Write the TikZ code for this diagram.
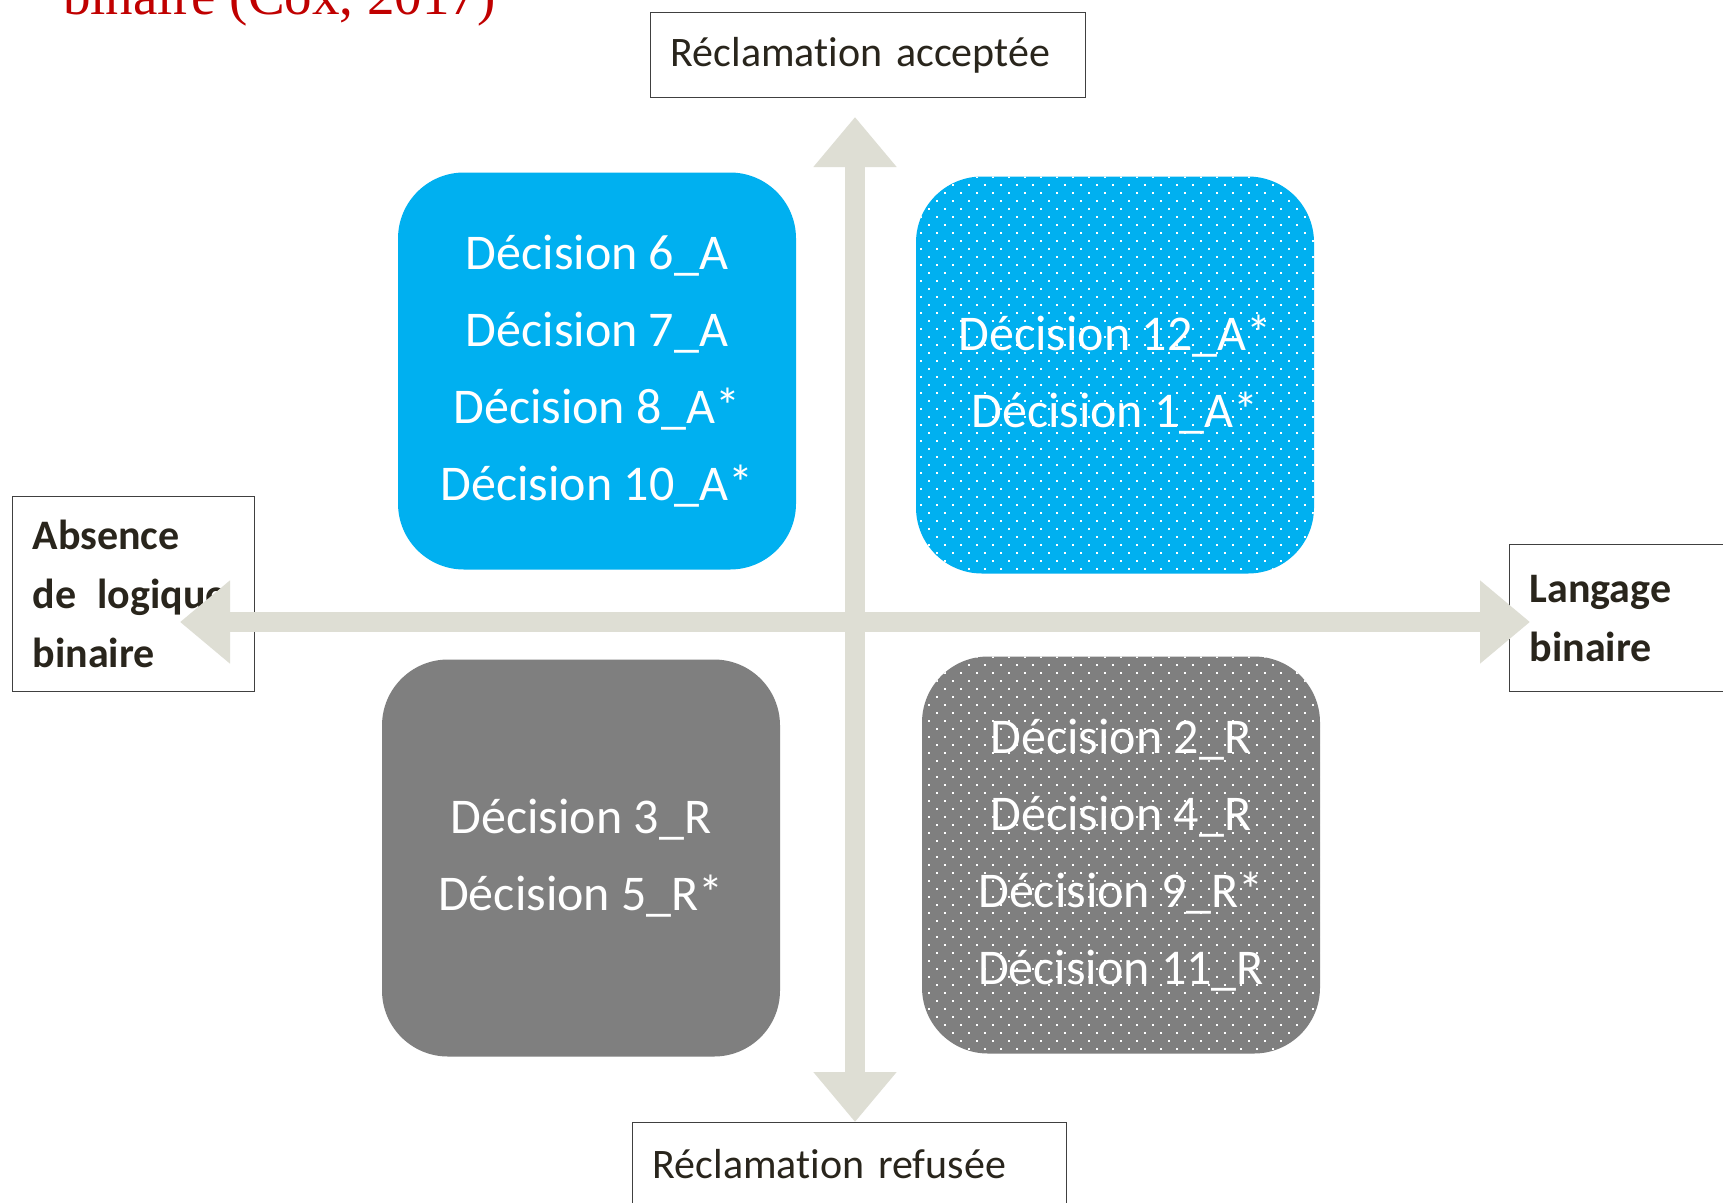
\documentclass[tikz,border=0pt]{standalone}
\usepackage{fontspec}
\setmainfont{Carlito}[Ligatures=NoCommon]
\newfontfamily\titlefont{Liberation Serif}
\usepackage{xcolor}
\usepackage{tikz}
\usetikzlibrary{arrows.meta, positioning, patterns.meta}

\definecolor{quadblue}{RGB}{0,176,240}
\definecolor{quadgray}{RGB}{127,127,127}
\definecolor{axisgray}{RGB}{222,222,212}
\definecolor{labelink}{RGB}{41,37,28}
\definecolor{titlered}{RGB}{192,0,0}

\pgfdeclareradialshading{pageglow}{\pgfpoint{0bp}{0bp}}{color(0bp)=(white); color(36bp)=(white); color(52bp)=(black!6); color(72bp)=(black!14)}

\tikzdeclarepattern{
  name=finedots,
  type=uncolored,
  bounding box={(0pt,0pt) and (10pt,10pt)},
  tile size={(16pt,16pt)},
  code={
    \fill (0pt,0pt) rectangle (2pt,2pt);
    \fill (8pt,8pt) rectangle (10pt,10pt);
  }
}

\begin{document}
\begin{tikzpicture}[x=1pt, y=-1pt,
    quad/.style={rounded corners=66pt, minimum width=398pt, minimum height=397pt, inner sep=0pt, text=white, align=center, font=\fontsize{50}{77}\selectfont},
    dotted quad/.style={quad, postaction={pattern=finedots, pattern color=white}},
    labelbox/.style={draw=black!75, line width=1.2pt, fill=white, text=labelink, align=left, inner xsep=20pt, inner ysep=0pt, anchor=north west, font=\fontsize{42}{59}\selectfont},
    axis/.style={draw=axisgray, line width=20pt, arrows={Triangle[length=50pt, width=80pt]-Triangle[length=50pt, width=80pt]}}]
  \useasboundingbox (0,0) rectangle (1723,1202);
  \shade[shading=pageglow] (0,0) rectangle (1723,1202);
  % cut-off title line
  \node[anchor=base west, inner sep=0pt, text=titlered, font=\titlefont\fontsize{55}{60}\selectfont] (title) at (63,14) {binaire (Cox, 2017)};
  % quadrants
  \node[quad, fill=quadblue] (quadNW) at (597,371) {Décision 6\_A\\Décision 7\_A\\Décision 8\_A*\\Décision 10\_A*};
  \node[dotted quad, fill=quadblue] (quadNE) at (1115,375) {Décision 12\_A*\\Décision 1\_A*};
  \node[quad, fill=quadgray] (quadSW) at (581,858) {Décision 3\_R\\Décision 5\_R*};
  \node[dotted quad, fill=quadgray] (quadSE) at (1121,855) {Décision 2\_R\\Décision 4\_R\\Décision 9\_R*\\Décision 11\_R};
  % axis labels
  \node[labelbox, minimum width=435pt, minimum height=85pt, text width=395pt] (accepted) at (650,12) {Réclamation acceptée};
  \node[labelbox, minimum width=434pt, minimum height=83pt, text width=394pt] (refused) at (632,1122) {Réclamation refusée};
  \node[labelbox, minimum width=242pt, minimum height=195pt, text width=202pt, font=\bfseries\fontsize{42}{59}\selectfont] (nobinary) at (12,496) {Absence\\de\enspace logique\\binaire};
  \node[labelbox, minimum width=260pt, minimum height=147pt, text width=220pt, font=\bfseries\fontsize{42}{59}\selectfont] (binary) at (1509,544) {Langage\\binaire};
  % axes
  \coordinate (north) at (855,117);
  \coordinate (south) at (refused.north -| north);
  \coordinate (west) at (180,622);
  \coordinate (east) at (1530,622);
  \draw[axis] (west) -- (east);
  \draw[axis] (north) -- (south);
\end{tikzpicture}
\end{document}
